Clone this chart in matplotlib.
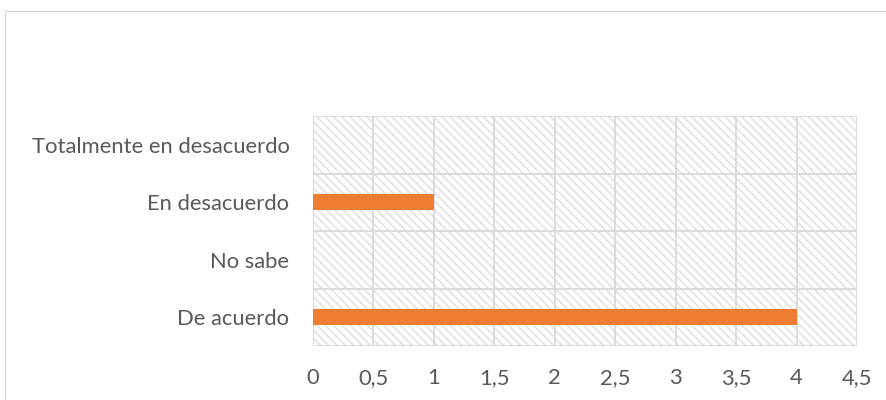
import matplotlib
matplotlib.use("Agg")
import matplotlib.pyplot as plt
from matplotlib.patches import Rectangle
from matplotlib.ticker import FuncFormatter

categories = ["De acuerdo", "No sabe", "En desacuerdo", "Totalmente en desacuerdo"]
values = [4, 0, 1, 0]
xticks = [0, 0.5, 1, 1.5, 2, 2.5, 3, 3.5, 4, 4.5]

plt.rcParams['font.family'] = ['Lato', 'DejaVu Sans']
plt.rcParams['hatch.color'] = '#e2e2e2'
plt.rcParams['hatch.linewidth'] = 1.2

W, H = 886, 400
fig = plt.figure(figsize=(W / 100, H / 100), dpi=100)
fig.patch.set_facecolor('white')

# outer chart border
fig.patches.append(Rectangle((5 / W, -0.05), 1.0, (400 - 11) / H + 0.05,
                             transform=fig.transFigure, fill=False,
                             edgecolor='#d9d9d9', linewidth=1))

ax = fig.add_axes([313 / W, (400 - 346) / H, 544 / W, 230 / H])
ax.set_xlim(0, 4.5)
ax.set_ylim(-0.5, 3.5)

# hatched plot-area background
ax.add_patch(Rectangle((0, 0), 1, 1, transform=ax.transAxes, facecolor='white',
                       hatch='\\\\\\\\', edgecolor='#e2e2e2', linewidth=0, zorder=0))

ypos = list(range(len(categories)))
ax.barh(ypos, values, height=0.28, color='#ED7D31', zorder=3)

ax.set_yticks(ypos)
ax.set_yticklabels(categories)
ax.set_xticks(xticks)
ax.xaxis.set_major_formatter(FuncFormatter(lambda v, p: ('%g' % v).replace('.', ',')))

# gridlines
for x in xticks:
    ax.axvline(x, color='#d9d9d9', linewidth=1.3, zorder=1)
for y in [-0.5, 0.5, 1.5, 2.5, 3.5]:
    ax.axhline(y, color='#d9d9d9', linewidth=1.3, zorder=1)

for s in ax.spines.values():
    s.set_visible(False)
ax.tick_params(axis='both', length=0, labelsize=15.8, labelcolor='#595959')
ax.tick_params(axis='y', pad=17)
ax.tick_params(axis='x', pad=16)

fig.savefig('out.png', dpi=100, facecolor='white')
